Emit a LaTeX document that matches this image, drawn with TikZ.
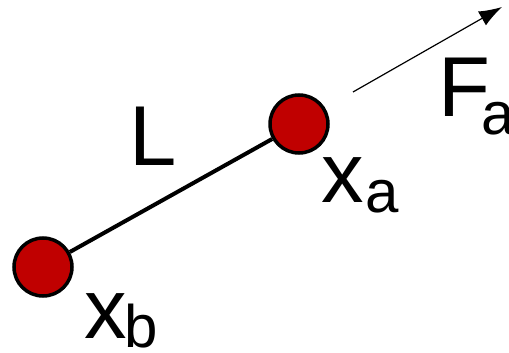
\documentclass[tikz,border=0pt]{standalone}
\usepackage{fontspec}
\setmainfont{Liberation Sans}
\usetikzlibrary{arrows.meta}
\definecolor{ballred}{HTML}{C00000}
\begin{document}
\begin{tikzpicture}[x=1pt,y=-1pt,
  ball/.style={circle,draw=black,fill=ballred,line width=3.5pt,minimum size=58pt,inner sep=0pt},
  bigtxt/.style={inner sep=0pt,anchor=base west,font=\fontsize{85}{90}\selectfont},
  subtxt/.style={inner sep=0pt,anchor=base west,font=\fontsize{60}{64}\selectfont}]
\useasboundingbox (0,0) rectangle (509,353);
\node[ball] (a) at (299,124) {};
\node[ball] (b) at (43,267) {};
\draw[line width=4pt] (b) -- (a);
\coordinate (fs) at (353,92);
\coordinate (fe) at (502,7);
\draw[line width=1.2pt,-{Latex[length=23pt,width=16pt]}] (fs) -- (fe);
\node[bigtxt] (L) at (129,165) {L};
\node[bigtxt] (xa) at (321,202) {x};
\node[subtxt] (sa) at (365,212) {a};
\node[bigtxt] (xb) at (84,338) {x};
\node[subtxt] (sb) at (124,347) {b};
\node[bigtxt] (F) at (438,117) {F};
\node[subtxt] (sF) at (481,135) {a};
\end{tikzpicture}
\end{document}
